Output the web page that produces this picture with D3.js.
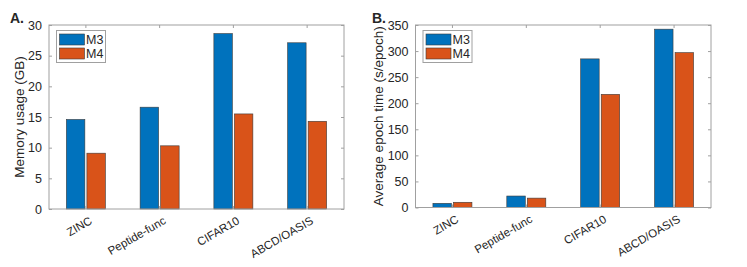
<!DOCTYPE html>
<html>
<head>
<meta charset="utf-8">
<script src="https://cdn.jsdelivr.net/npm/d3@7"></script>
<style>
  body { margin: 0; background: #fff; }
  text { font-family: "Liberation Sans", Arial, sans-serif; fill: #262626; }
</style>
</head>
<body>
<div id="viz"></div>
<script>
const datasets = ['ZINC', 'Peptide-func', 'CIFAR10', 'ABCD/OASIS'];
const seriesNames = ['M3', 'M4'];
const memoryM3 = [14.6, 16.6, 28.6, 27.1];
const memoryM4 = [9.1, 10.3, 15.5, 14.3];
const epochM3 = [8, 22, 285, 342];
const epochM4 = [10, 18, 217, 297];
const memoryTicks = [0, 5, 10, 15, 20, 25, 30];
const epochTicks = [0, 50, 100, 150, 200, 250, 300, 350];

const colors = { M3: '#0072BD', M4: '#D95319' };

let svg = d3.select('#viz').append('svg')
  .attr('width', 747)
  .attr('height', 267);

function buildPanel(opts) {
  let x = d3.scaleBand().domain(datasets).range([opts.left, opts.right]);
  let y = d3.scaleLinear().domain([0, opts.max]).range([opts.bottom, opts.top]);
  let inner = d3.scaleBand().domain(seriesNames)
    .range([-19.5, 19.5]).paddingInner(0.1);

  let g = svg.append('g');

  // bars
  let rows = datasets.map((d, i) => ({ name: d, M3: opts.m3[i], M4: opts.m4[i] }));
  rows.forEach(r => {
    seriesNames.forEach(s => {
      g.append('rect')
        .attr('x', x(r.name) + x.bandwidth() / 2 + inner(s))
        .attr('y', y(r[s]))
        .attr('width', inner.bandwidth())
        .attr('height', y(0) - y(r[s]))
        .attr('fill', colors[s])
        .attr('stroke', '#3a3a3a')
        .attr('stroke-width', 0.6);
    });
  });

  // frame
  g.append('rect')
    .attr('x', opts.left).attr('y', opts.top)
    .attr('width', opts.right - opts.left)
    .attr('height', opts.bottom - opts.top)
    .attr('fill', 'none')
    .attr('stroke', '#a0a0a0')
    .attr('stroke-width', 1);

  // axes with inward ticks
  let yAxis = d3.axisLeft(y).tickValues(opts.ticks).tickSizeInner(-3).tickSizeOuter(0).tickPadding(7);
  let ya = g.append('g').attr('transform', 'translate(' + opts.left + ',0)').call(yAxis);
  let yAxisR = d3.axisRight(y).tickValues(opts.ticks).tickSizeInner(-3).tickSizeOuter(0).tickFormat('');
  let yr = g.append('g').attr('transform', 'translate(' + opts.right + ',0)').call(yAxisR);
  let xAxis = d3.axisBottom(x).tickSizeInner(-3).tickSizeOuter(0).tickFormat('');
  let xa = g.append('g').attr('transform', 'translate(0,' + opts.bottom + ')').call(xAxis);
  let xAxisT = d3.axisTop(x).tickSizeInner(-3).tickSizeOuter(0).tickFormat('');
  let xt = g.append('g').attr('transform', 'translate(0,' + opts.top + ')').call(xAxisT);

  [ya, yr, xa, xt].forEach(a => {
    a.select('.domain').remove();
    a.selectAll('line').attr('stroke', '#a0a0a0');
  });
  ya.selectAll('text')
    .style('font-family', '"Liberation Sans", Arial, sans-serif')
    .style('font-size', '12.5px')
    .attr('fill', '#262626');

  // rotated category labels
  datasets.forEach(d => {
    let cx = x(d) + x.bandwidth() / 2 + 3;
    g.append('text')
      .text(d)
      .attr('text-anchor', 'end')
      .attr('transform', 'translate(' + cx + ',' + (opts.bottom + 7) + ') rotate(-30)')
      .attr('dy', '0.7em')
      .style('font-size', '11.5px');
  });

  // y label
  g.append('text')
    .text(opts.label)
    .attr('text-anchor', 'middle')
    .attr('transform', 'translate(' + opts.labelX + ',' + ((opts.top + opts.bottom) / 2) + ') rotate(-90)')
    .style('font-size', '13.5px');

  // panel letter
  g.append('text')
    .text(opts.letter)
    .attr('x', opts.letterX)
    .attr('y', 23)
    .style('font-size', '14px')
    .style('font-weight', 'bold')
    .attr('fill', '#000');

  // legend
  let lg = g.append('g').attr('transform', 'translate(' + (opts.left + 7.5) + ',' + (opts.top + 5.5) + ')');
  lg.append('rect')
    .attr('width', 49).attr('height', 32)
    .attr('fill', '#fff')
    .attr('stroke', '#a0a0a0');
  seriesNames.forEach((s, i) => {
    lg.append('rect')
      .attr('x', 3).attr('y', 3.5 + i * 14)
      .attr('width', 25).attr('height', 11)
      .attr('fill', colors[s])
      .attr('stroke', '#3a3a3a')
      .attr('stroke-width', 0.6);
    lg.append('text')
      .text(s)
      .attr('x', 29.5).attr('y', 13.5 + i * 14)
      .style('font-size', '12.5px');
  });
}

buildPanel({
  left: 49, right: 344, top: 25, bottom: 209, max: 30,
  m3: memoryM3, m4: memoryM4, ticks: memoryTicks,
  label: 'Memory usage (GB)', labelX: 24, letter: 'A.', letterX: 10
});

buildPanel({
  left: 415.5, right: 711, top: 25, bottom: 207.5, max: 350,
  m3: epochM3, m4: epochM4, ticks: epochTicks,
  label: 'Average epoch time (s/epoch)', labelX: 383, letter: 'B.', letterX: 372
});
</script>
</body>
</html>
